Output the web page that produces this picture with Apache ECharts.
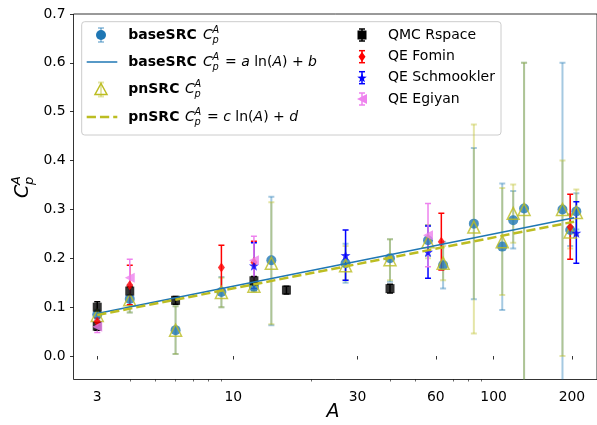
<!DOCTYPE html>
<html><head><meta charset="utf-8">
<script src="https://cdn.jsdelivr.net/npm/echarts@6/dist/echarts.min.js"></script>
<style>html,body{margin:0;padding:0;background:#fff}#c{width:597px;height:425px}</style>
</head><body><div id="c"></div>
<script>
// ---------- data ----------
const xTicks = [3, 10, 30, 60, 100, 200];
const xMinorTicks = [4, 5, 6, 7, 8, 9, 20, 40, 50, 70, 80, 90];
const yTicks = [0, 0.1, 0.2, 0.3, 0.4, 0.5, 0.6, 0.7];

const baseA  = [3, 4, 6, 9, 12, 14, 27, 40, 56, 64, 84, 108, 119, 131, 184, 197, 208];
const baseC  = [0.085, 0.117, 0.053, 0.131, 0.142, 0.196, 0.190, 0.200, 0.237, 0.186, 0.271, 0.224, 0.278, 0.302, 0.300, 0.258, 0.296];
const baseLo = [0.075, 0.089, 0.004, 0.100, 0.132, 0.063, 0.150, 0.152, 0.205, 0.138, 0.116, 0.094, 0.220, -0.100, -0.100, 0.225, 0.259];
const baseHi = [0.095, 0.145, 0.102, 0.162, 0.152, 0.326, 0.230, 0.239, 0.268, 0.234, 0.426, 0.353, 0.338, 0.600, 0.600, 0.290, 0.333];

const pnA  = [3, 4, 6, 9, 12, 14, 27, 40, 56, 64, 84, 108, 119, 131, 184, 197, 208];
const pnC  = [0.083, 0.115, 0.053, 0.130, 0.143, 0.190, 0.185, 0.197, 0.234, 0.190, 0.264, 0.234, 0.292, 0.300, 0.300, 0.254, 0.294];
const pnLo = [0.073, 0.089, 0.004, 0.100, 0.133, 0.065, 0.155, 0.155, 0.200, 0.155, 0.046, 0.125, 0.232, -0.100, 0.000, 0.220, 0.247];
const pnHi = [0.093, 0.141, 0.102, 0.160, 0.153, 0.315, 0.225, 0.239, 0.268, 0.225, 0.474, 0.344, 0.351, 0.600, 0.400, 0.290, 0.341];

const fitBaseA = [3, 204], fitBaseC = [0.087, 0.283];
const fitPnA   = [3, 204], fitPnC   = [0.084, 0.275];

const qmcA  = [3, 3, 4, 6, 12, 16, 40];
const qmcC  = [0.100, 0.061, 0.133, 0.114, 0.154, 0.135, 0.138];
const qmcLo = [0.091, 0.053, 0.124, 0.106, 0.145, 0.127, 0.129];
const qmcHi = [0.111, 0.069, 0.142, 0.122, 0.163, 0.143, 0.147];

const fomA  = [3, 4, 9, 12, 63, 197];
const fomC  = [0.070, 0.145, 0.181, 0.192, 0.234, 0.264];
const fomLo = [0.062, 0.105, 0.135, 0.150, 0.176, 0.198];
const fomHi = [0.078, 0.186, 0.227, 0.235, 0.292, 0.331];

const schA  = [12, 27, 56, 208];
const schC  = [0.185, 0.206, 0.213, 0.252];
const schLo = [0.138, 0.155, 0.159, 0.190];
const schHi = [0.232, 0.258, 0.266, 0.316];

const egiA  = [3, 4, 12, 56];
const egiC  = [0.060, 0.160, 0.196, 0.247];
const egiLo = [0.048, 0.124, 0.147, 0.183];
const egiHi = [0.072, 0.198, 0.245, 0.312];

// ---------- helpers ----------
const L = Math.log10;
const pts = (A, C) => A.map((a, i) => [L(a), C[i]]);
const bars = (A, lo, hi) => A.map((a, i) => [L(a), lo[i], hi[i]]);

const BLUE = '#1f77b4', OLIVE = '#bcbd22';
const BLUE_E = 'rgba(31,119,180,0.4)', OLIVE_E = 'rgba(188,189,34,0.4)';
const STAR_PTS = [[0,-10],[2.35,-3.24],[9.51,-3.09],[3.8,1.24],[5.88,8.09],[0,4],[-5.88,8.09],[-3.8,1.24],[-9.51,-3.09],[-2.35,-3.24]];
const STAR = 'path://M' + STAR_PTS.map(p => p.join(',')).join(' L') + ' Z';
const LTRI = 'path://M0,5 L10,0 L10,10 Z';
const FONT = '"DejaVu Sans", sans-serif';

function errSeries(name, data, color, width, capW) {
  return {
    type: 'custom', name, data, clip: true, silent: true,
    renderItem(params, api) {
      const x = api.value(0), lo = api.value(1), hi = api.value(2);
      const p1 = api.coord([x, lo]), p2 = api.coord([x, hi]);
      const st = { stroke: color, lineWidth: width };
      return { type: 'group', children: [
        { type: 'line', shape: { x1: p1[0], y1: p1[1], x2: p2[0], y2: p2[1] }, style: st },
        { type: 'line', shape: { x1: p1[0] - capW, y1: p1[1], x2: p1[0] + capW, y2: p1[1] }, style: st },
        { type: 'line', shape: { x1: p2[0] - capW, y1: p2[1], x2: p2[0] + capW, y2: p2[1] }, style: st }
      ]};
    }
  };
}
function scatter(name, data, symbol, size, itemStyle) {
  return { type: 'scatter', name, data, symbol, symbolSize: size, itemStyle, silent: true, animation: false };
}

// ---------- legend (graphic) ----------
function vbar(x, y, h, color, w) {
  const st = { stroke: color, lineWidth: w || 2 };
  return [
    { type: 'line', shape: { x1: x, y1: y - h, x2: x, y2: y + h }, style: st },
    { type: 'line', shape: { x1: x - 3, y1: y - h, x2: x + 3, y2: y - h }, style: st },
    { type: 'line', shape: { x1: x - 3, y1: y + h, x2: x + 3, y2: y + h }, style: st }
  ];
}
function txt(x, y, text, font, extra) {
  return { type: 'text', x, y, style: Object.assign({ text, font, fill: '#000', textVerticalAlign: 'middle', textAlign: 'left' }, extra || {}) };
}
function mathC(x, y) {
  return [
    txt(x, y, 'C', 'italic 14px ' + FONT),
    txt(x + 9.5, y - 5, 'A', 'italic 9.8px ' + FONT),
    txt(x + 9.5, y + 5, 'p', 'italic 9.8px ' + FONT)
  ];
}
function tail(x, y, parts) {
  return { type: 'text', x, y, style: {
    text: parts, font: '14px ' + FONT, fill: '#000', textVerticalAlign: 'middle',
    rich: { i: { fontStyle: 'italic', fontSize: 14, fontFamily: FONT }, r: { fontSize: 14, fontFamily: FONT } }
  }};
}
const legendEls = [];
legendEls.push({ type: 'rect', shape: { x: 81.7, y: 21.7, width: 419.3, height: 113.3, r: 3 },
  style: { fill: 'rgba(255,255,255,0.8)', stroke: '#cccccc', lineWidth: 1 } });
// column 1
const c1y = [35, 62, 89.5, 117];
legendEls.push(...vbar(101, c1y[0], 7, BLUE_E));
legendEls.push({ type: 'circle', shape: { cx: 101, cy: c1y[0], r: 5 }, style: { fill: BLUE } });
legendEls.push(txt(128.3, c1y[0], 'baseSRC', 'bold 14px ' + FONT), ...mathC(203, c1y[0]));
legendEls.push({ type: 'line', shape: { x1: 86.7, y1: c1y[1], x2: 117.3, y2: c1y[1] }, style: { stroke: BLUE, lineWidth: 1.5 } });
legendEls.push(txt(128.3, c1y[1], 'baseSRC', 'bold 14px ' + FONT), ...mathC(203, c1y[1]));
legendEls.push(tail(225, c1y[1], '{r|=} {i|a} {r|ln(}{i|A}{r|) + }{i|b}'));
legendEls.push(...vbar(101, c1y[2], 7, OLIVE_E));
legendEls.push({ type: 'polygon', shape: { points: [[101, c1y[2] - 6], [107, c1y[2] + 5], [95, c1y[2] + 5]] }, style: { fill: 'none', stroke: OLIVE, lineWidth: 1.5 } });
legendEls.push(txt(128.3, c1y[2], 'pnSRC', 'bold 14px ' + FONT), ...mathC(185, c1y[2]));
legendEls.push({ type: 'line', shape: { x1: 86.7, y1: c1y[3], x2: 117.3, y2: c1y[3] }, style: { stroke: OLIVE, lineWidth: 2.5, lineDash: [9.25, 4] } });
legendEls.push(txt(128.3, c1y[3], 'pnSRC', 'bold 14px ' + FONT), ...mathC(185, c1y[3]));
legendEls.push(tail(207, c1y[3], '{r|=} {i|c} {r|ln(}{i|A}{r|) + }{i|d}'));
// column 2
const c2y = [35, 56.7, 77.7, 99];
const c2x = 362, c2t = 388;
legendEls.push(...vbar(c2x, c2y[0], 6, '#000', 1.5));
legendEls.push({ type: 'rect', shape: { x: c2x - 4.5, y: c2y[0] - 4.5, width: 9, height: 9 }, style: { fill: '#000' } });
legendEls.push(txt(c2t, c2y[0], 'QMC Rspace', '14px ' + FONT));
legendEls.push(...vbar(c2x, c2y[1], 6, '#ff0000', 1.5));
legendEls.push({ type: 'polygon', shape: { points: [[c2x, c2y[1] - 5], [c2x + 3.5, c2y[1]], [c2x, c2y[1] + 5], [c2x - 3.5, c2y[1]]] }, style: { fill: '#ff0000' } });
legendEls.push(txt(c2t, c2y[1], 'QE Fomin', '14px ' + FONT));
legendEls.push(...vbar(c2x, c2y[2], 6, '#0000ff', 1.5));
legendEls.push({ type: 'polygon', shape: { points: STAR_PTS.map(p => [c2x + p[0] * 0.5, c2y[2] + p[1] * 0.5 + 0.5]) }, style: { fill: '#0000ff' } });
legendEls.push(txt(c2t, c2y[2], 'QE Schmookler', '14px ' + FONT));
legendEls.push(...vbar(c2x, c2y[3], 6, '#ee82ee', 1.5));
legendEls.push({ type: 'polygon', shape: { points: [[c2x - 5, c2y[3]], [c2x + 5, c2y[3] - 5], [c2x + 5, c2y[3] + 5]] }, style: { fill: '#ee82ee' } });
legendEls.push(txt(c2t, c2y[3], 'QE Egiyan', '14px ' + FONT));

// axis titles
const yTitle = { type: 'group', x: 23, y: 198, rotation: Math.PI / 2, children: [
  { type: 'text', x: 0, y: 0, style: { text: 'C', font: 'italic 19px ' + FONT, fill: '#000', textAlign: 'left', textVerticalAlign: 'middle' } },
  { type: 'text', x: 13, y: -6.5, style: { text: 'A', font: 'italic 13px ' + FONT, fill: '#000', textAlign: 'left', textVerticalAlign: 'middle' } },
  { type: 'text', x: 13, y: 6.5, style: { text: 'p', font: 'italic 13px ' + FONT, fill: '#000', textAlign: 'left', textVerticalAlign: 'middle' } }
]};
const xTitle = { type: 'text', x: 333, y: 412, style: { text: 'A', font: 'italic 19px ' + FONT, fill: '#000', textAlign: 'center', textVerticalAlign: 'middle' } };

// ---------- chart ----------
const xMin = 0.3859, xMax = 2.3975;
const chart = echarts.init(document.getElementById('c'), null, { renderer: 'canvas' });
chart.setOption({
  animation: false,
  backgroundColor: '#fff',
  grid: { left: 73.5, right: 0, top: 14, bottom: 45.5, show: true, borderColor: '#000', borderWidth: 0.8, backgroundColor: 'transparent' },
  xAxis: [{
    type: 'value', min: xMin, max: xMax,
    axisLine: { show: false }, splitLine: { show: false },
    axisTick: { show: true, customValues: xTicks.map(L), length: 3.5, lineStyle: { color: '#000', width: 0.8 } },
    axisLabel: { customValues: xTicks.map(L), margin: 11, color: '#000', fontSize: 13.9, fontFamily: FONT,
      formatter: v => String(Math.round(Math.pow(10, v))) }
  }, {
    type: 'value', min: xMin, max: xMax, position: 'bottom',
    axisLine: { show: false }, splitLine: { show: false },
    axisTick: { show: true, customValues: xMinorTicks.map(L), length: 2, lineStyle: { color: '#000', width: 0.6 } },
    axisLabel: { show: false }
  }],
  yAxis: {
    type: 'value', min: -0.048, max: 0.7,
    axisLine: { show: false }, splitLine: { show: false },
    axisTick: { show: true, customValues: yTicks, length: 3.5, lineStyle: { color: '#000', width: 0.8 } },
    axisLabel: { customValues: yTicks, margin: 8, color: '#000', fontSize: 13.9, fontFamily: FONT,
      formatter: v => v.toFixed(1) }
  },
  graphic: [...legendEls, yTitle, xTitle],
  series: [
    errSeries('baseErr', bars(baseA, baseLo, baseHi), BLUE_E, 2, 3),
    errSeries('pnErr', bars(pnA, pnLo, pnHi), OLIVE_E, 2, 3),
    scatter('baseSRC', pts(baseA, baseC), 'circle', 10, { color: BLUE }),
    scatter('pnSRC', pts(pnA, pnC), 'triangle', 12, { color: 'rgba(0,0,0,0)', borderColor: OLIVE, borderWidth: 1.5 }),
    { type: 'line', name: 'baseFit', data: pts(fitBaseA, fitBaseC), showSymbol: false, symbol: 'none', silent: true,
      lineStyle: { color: BLUE, width: 1.5 } },
    { type: 'line', name: 'pnFit', data: pts(fitPnA, fitPnC), showSymbol: false, symbol: 'none', silent: true,
      lineStyle: { color: OLIVE, width: 2.5, type: [9.25, 4] } },
    errSeries('qmcErr', bars(qmcA, qmcLo, qmcHi), '#000', 1.5, 3),
    scatter('QMC Rspace', pts(qmcA, qmcC), 'rect', 9, { color: '#000' }),
    errSeries('fomErr', bars(fomA, fomLo, fomHi), '#ff0000', 1.5, 3),
    scatter('QE Fomin', pts(fomA, fomC), 'diamond', [7, 10], { color: '#ff0000' }),
    errSeries('schErr', bars(schA, schLo, schHi), '#0000ff', 1.5, 3),
    scatter('QE Schmookler', pts(schA, schC), STAR, 10, { color: '#0000ff' }),
    errSeries('egiErr', bars(egiA, egiLo, egiHi), '#ee82ee', 1.5, 3),
    scatter('QE Egiyan', pts(egiA, egiC), LTRI, 10, { color: '#ee82ee' })
  ]
});
</script></body></html>
